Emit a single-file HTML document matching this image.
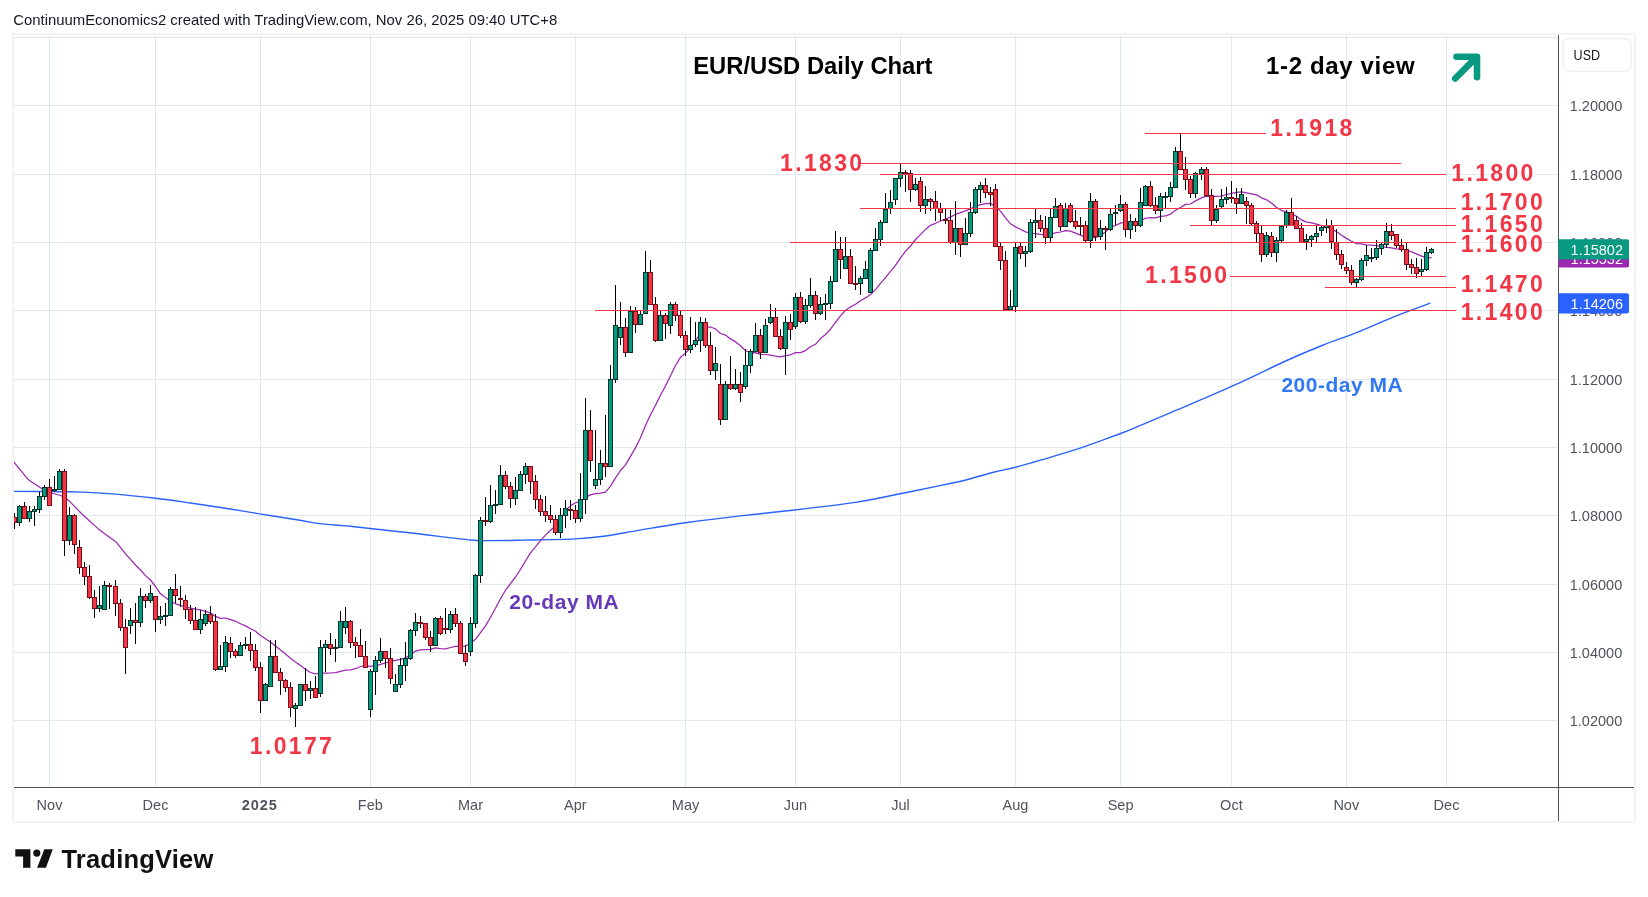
<!DOCTYPE html>
<html><head><meta charset="utf-8"><title>EUR/USD Daily Chart</title>
<style>
html,body{margin:0;padding:0;background:#fff;width:1648px;height:897px;overflow:hidden}
svg{position:absolute;left:0;top:0;display:block;will-change:transform}
text{font-family:"Liberation Sans",sans-serif}
</style></head><body>
<svg width="1648" height="897" viewBox="0 0 1648 897">

<text x="13.3" y="25.1" font-size="15" fill="#131722" textLength="544" lengthAdjust="spacingAndGlyphs">ContinuumEconomics2 created with TradingView.com, Nov 26, 2025 09:40 UTC+8</text>
<rect x="13" y="34" width="1622" height="788" fill="#fff" stroke="#f2f2f2" stroke-width="2"/>
<path d="M14 37.5H1558 M14 105.5H1558 M14 174.5H1558 M14 242.5H1558 M14 310.5H1558 M14 379.5H1558 M14 447.5H1558 M14 515.5H1558 M14 584.5H1558 M14 652.5H1558 M14 720.5H1558 M49.5 35V787 M155.5 35V787 M260.5 35V787 M370.5 35V787 M470.5 35V787 M575.5 35V787 M685.5 35V787 M795.5 35V787 M900.5 35V787 M1015.5 35V787 M1120.5 35V787 M1231.5 35V787 M1346.5 35V787 M1446.5 35V787" stroke="#e1e9f0" stroke-width="1" fill="none"/>
<svg x="14" y="35" width="1544" height="752" viewBox="14 35 1544 752" overflow="hidden">
<path d="M13.6 491.4 C22.1 491.4 53.1 491.6 64.6 491.7 C76.1 491.8 74.3 491.7 82.8 492.1 C91.3 492.5 103.5 493.1 115.6 494.1 C127.7 495.1 142.9 496.8 155.6 498.3 C168.3 499.8 179.8 501.5 192.0 503.2 C204.2 504.9 217.0 506.9 228.5 508.7 C240.0 510.5 249.3 512.2 261.2 514.1 C273.1 516.0 290.2 518.7 300.0 520.3 C309.8 521.9 310.6 522.5 319.7 523.6 C328.8 524.7 339.7 525.2 354.6 526.7 C369.5 528.2 389.9 530.6 409.2 532.8 C428.5 535.0 457.6 538.7 470.4 540.0 C483.1 541.3 477.7 540.6 485.7 540.6 C493.7 540.6 503.5 540.5 518.4 540.2 C533.3 539.9 560.6 539.6 575.2 538.9 C589.8 538.2 595.0 537.5 605.8 536.0 C616.6 534.5 626.7 532.3 640.0 530.1 C653.3 527.9 668.8 525.2 685.5 522.8 C702.2 520.4 721.9 518.0 740.1 515.9 C758.3 513.8 775.0 512.3 794.7 510.0 C814.4 507.7 840.9 504.6 858.5 501.9 C876.1 499.2 886.7 496.4 900.3 493.7 C913.9 491.0 928.9 487.9 940.0 485.6 C951.1 483.3 957.9 481.9 966.8 479.7 C975.7 477.5 985.4 474.4 993.5 472.3 C1001.6 470.2 1006.7 469.5 1015.6 467.2 C1024.5 464.9 1037.3 461.1 1047.0 458.3 C1056.7 455.5 1067.1 452.3 1073.8 450.2 C1080.5 448.1 1079.4 448.4 1087.2 445.6 C1095.0 442.8 1111.8 436.8 1120.6 433.5 C1129.4 430.2 1130.7 429.5 1140.0 425.6 C1149.3 421.7 1164.3 415.4 1176.4 410.2 C1188.5 405.0 1200.7 400.0 1212.8 394.7 C1224.9 389.4 1237.1 383.9 1249.2 378.3 C1261.3 372.7 1273.5 366.5 1285.6 361.0 C1297.7 355.5 1309.8 350.4 1322.0 345.5 C1334.2 340.6 1346.3 336.8 1358.5 331.9 C1370.7 327.0 1382.9 321.2 1394.9 316.4 C1406.9 311.6 1424.5 305.3 1430.4 303.1" stroke="#2962ff" stroke-width="1.4" fill="none"/>
<path d="M13.0 461.0 L28.7 480.1 L42.1 488.8 L52.8 493.5 L60.8 495.5 L68.9 500.6 L82.2 514.2 L98.3 528.9 L109.5 537.3 L115.5 541.4 L120.5 547.4 L125.5 553.9 L130.5 559.4 L135.5 565.0 L140.5 570.0 L145.5 575.6 L150.5 580.0 L155.5 586.5 L160.5 593.8 L165.5 597.6 L170.5 601.2 L175.5 603.8 L180.5 605.4 L185.5 607.0 L190.5 608.2 L195.5 609.2 L200.5 609.9 L205.5 611.3 L210.5 613.1 L215.5 616.4 L220.5 618.3 L225.5 618.0 L230.5 619.6 L235.5 621.2 L240.5 623.7 L245.5 625.9 L250.5 628.8 L255.5 631.2 L260.5 635.4 L265.5 638.8 L270.5 642.2 L275.5 646.0 L280.5 650.1 L285.5 654.0 L290.5 658.3 L295.5 662.1 L300.5 665.4 L305.5 669.2 L310.5 672.5 L315.5 673.9 L320.5 673.0 L325.5 673.1 L330.5 673.0 L335.5 672.6 L340.5 671.4 L345.5 670.2 L350.5 669.8 L355.5 668.7 L360.5 666.5 L365.5 665.6 L370.5 666.4 L375.5 665.8 L380.5 664.3 L385.5 662.9 L390.5 661.4 L395.5 660.4 L400.5 659.4 L405.5 657.8 L410.5 654.9 L415.5 651.1 L420.5 649.9 L425.5 649.6 L430.5 649.4 L435.5 647.9 L440.5 648.6 L445.5 648.9 L450.5 647.5 L455.5 646.4 L460.5 646.3 L465.5 646.0 L470.5 643.6 L475.5 639.3 L480.5 632.7 L485.5 625.9 L490.5 617.3 L495.5 608.3 L500.5 598.8 L505.5 590.2 L510.5 583.6 L515.5 577.0 L520.5 569.5 L525.5 561.0 L530.5 552.8 L535.5 546.8 L540.5 540.7 L545.5 535.1 L550.5 530.3 L555.5 525.8 L560.5 518.9 L565.5 511.2 L570.5 505.6 L575.5 502.7 L580.5 501.7 L585.5 497.2 L590.5 494.9 L595.5 493.7 L600.5 493.1 L605.5 492.1 L610.5 486.1 L615.5 477.9 L620.5 470.5 L625.5 464.9 L630.5 456.4 L635.5 447.6 L640.5 437.7 L645.5 425.6 L650.5 414.8 L655.5 405.2 L660.5 395.2 L665.5 386.0 L670.5 375.7 L675.5 365.5 L680.5 357.3 L685.5 353.2 L690.5 347.5 L695.5 340.5 L700.5 333.4 L705.5 327.4 L710.5 327.0 L715.5 328.9 L720.5 333.5 L725.5 335.1 L730.5 338.9 L735.5 341.9 L740.5 345.8 L745.5 350.5 L750.5 352.9 L755.5 352.6 L760.5 354.4 L765.5 354.5 L770.5 355.2 L775.5 356.2 L780.5 356.9 L785.5 355.6 L790.5 354.8 L795.5 352.6 L800.5 352.6 L805.5 350.6 L810.5 346.8 L815.5 344.3 L820.5 338.6 L825.5 334.5 L830.5 329.2 L835.5 322.4 L840.5 315.8 L845.5 310.3 L850.5 306.9 L855.5 304.3 L860.5 300.7 L865.5 297.9 L870.5 294.5 L875.5 289.6 L880.5 283.3 L885.5 277.6 L890.5 271.3 L895.5 265.3 L900.5 257.9 L905.5 251.3 L910.5 246.0 L915.5 239.5 L920.5 234.6 L925.5 229.4 L930.5 225.3 L935.5 223.3 L940.5 221.0 L945.5 219.2 L950.5 217.1 L955.5 214.3 L960.5 212.6 L965.5 210.8 L970.5 208.9 L975.5 206.4 L980.5 204.6 L985.5 203.7 L990.5 203.3 L995.5 206.7 L1000.5 211.1 L1005.5 217.9 L1010.5 223.8 L1015.5 226.9 L1020.5 229.3 L1025.5 231.9 L1030.5 233.0 L1035.5 233.6 L1040.5 234.4 L1045.5 235.2 L1050.5 234.0 L1055.5 232.9 L1060.5 232.0 L1065.5 230.7 L1070.5 231.2 L1075.5 233.1 L1080.5 235.1 L1085.5 237.5 L1090.5 237.9 L1095.5 237.4 L1100.5 235.8 L1105.5 231.8 L1110.5 227.2 L1115.5 225.5 L1120.5 223.1 L1125.5 222.0 L1130.5 221.9 L1135.5 222.2 L1140.5 220.9 L1145.5 218.3 L1150.5 217.7 L1155.5 217.9 L1160.5 216.4 L1165.5 215.8 L1170.5 214.1 L1175.5 210.3 L1180.5 207.5 L1185.5 204.4 L1190.5 204.0 L1195.5 200.9 L1201.5 197.9 L1206.5 196.2 L1211.5 196.5 L1216.5 196.3 L1221.5 196.1 L1226.5 194.5 L1231.5 193.4 L1236.5 192.3 L1241.5 191.9 L1246.5 192.8 L1251.5 193.8 L1256.5 194.9 L1261.5 197.8 L1266.5 199.8 L1271.5 203.0 L1276.5 207.5 L1281.5 210.3 L1286.5 212.0 L1291.5 213.6 L1296.5 216.3 L1301.5 219.9 L1306.5 222.1 L1311.5 222.9 L1316.5 224.1 L1321.5 225.5 L1326.5 226.9 L1331.5 229.1 L1336.5 231.7 L1341.5 235.2 L1346.5 238.4 L1351.5 241.3 L1356.5 243.6 L1361.5 243.9 L1366.5 244.9 L1371.5 245.2 L1376.5 245.6 L1381.5 246.5 L1386.5 247.4 L1391.5 247.9 L1396.5 248.8 L1401.5 249.1 L1406.5 250.4 L1411.5 251.9 L1416.5 253.9 L1421.5 256.1 L1426.5 257.4 L1431.5 257.8" stroke="#9c27b0" stroke-width="1.25" fill="none" stroke-linejoin="round"/>
<path d="M14.5 513V529 M19.5 505V526 M24.5 502V518 M29.5 506V522 M34.5 506V526 M39.5 492V513 M44.5 485V500 M49.5 479V505 M54.5 476V492 M59.5 469V490 M64.5 469V556 M69.5 507V545 M74.5 514V554 M79.5 540V574 M84.5 562V585 M89.5 565V599 M94.5 590V618 M99.5 586V612 M104.5 581V609 M109.5 583V609 M115.5 580V616 M120.5 599V631 M125.5 619V674 M130.5 608V634 M135.5 603V644 M140.5 588V627 M145.5 594V608 M150.5 585V603 M155.5 596V632 M160.5 606V624 M165.5 603V626 M170.5 587V616 M175.5 574V603 M180.5 586V607 M185.5 595V619 M190.5 605V624 M195.5 607V630 M200.5 610V634 M205.5 610V626 M210.5 606V624 M215.5 614V671 M220.5 645V670 M225.5 636V672 M230.5 637V658 M235.5 649V658 M240.5 642V655 M245.5 637V649 M250.5 632V661 M255.5 644V671 M260.5 662V713 M265.5 683V701 M270.5 640V687 M275.5 640V673 M280.5 668V695 M285.5 679V692 M290.5 682V717 M295.5 703V727 M300.5 684V706 M305.5 668V701 M310.5 681V699 M315.5 676V698 M320.5 640V697 M325.5 640V672 M330.5 633V655 M335.5 639V662 M340.5 611V647 M345.5 607V634 M350.5 620V648 M355.5 637V658 M360.5 629V656 M365.5 641V668 M370.5 669V717 M375.5 656V695 M380.5 638V663 M385.5 651V668 M390.5 648V684 M395.5 674V691 M400.5 658V688 M405.5 642V681 M410.5 629V660 M415.5 613V636 M420.5 616V628 M425.5 623V640 M430.5 631V652 M435.5 617V645 M440.5 616V635 M445.5 608V634 M450.5 611V633 M455.5 608V627 M460.5 621V653 M465.5 645V666 M470.5 617V656 M475.5 574V628 M480.5 517V583 M485.5 497V526 M490.5 485V523 M495.5 490V514 M500.5 465V505 M505.5 471V489 M510.5 482V508 M515.5 477V505 M520.5 471V491 M525.5 463V484 M530.5 466V494 M535.5 475V509 M540.5 495V516 M545.5 496V522 M550.5 505V523 M555.5 515V535 M560.5 508V538 M565.5 500V528 M570.5 500V520 M575.5 505V523 M580.5 473V522 M585.5 398V514 M590.5 410V472 M595.5 430V489 M600.5 450V485 M605.5 415V477 M610.5 365V466 M615.5 285V383 M620.5 302V345 M625.5 318V357 M630.5 306V352 M635.5 307V333 M640.5 311V324 M645.5 251V313 M650.5 260V304 M655.5 297V342 M660.5 311V341 M665.5 313V339 M670.5 302V334 M675.5 302V321 M680.5 311V338 M685.5 331V356 M690.5 317V353 M695.5 322V347 M700.5 317V352 M705.5 318V348 M710.5 332V375 M715.5 347V380 M720.5 364V425 M725.5 381V420 M730.5 356V390 M735.5 369V390 M740.5 372V402 M745.5 349V389 M750.5 349V373 M755.5 323V352 M760.5 329V359 M765.5 319V352 M770.5 304V324 M775.5 308V336 M780.5 329V350 M785.5 316V375 M790.5 314V340 M795.5 293V329 M800.5 292V323 M805.5 299V324 M810.5 278V308 M815.5 291V320 M820.5 297V315 M825.5 294V320 M830.5 276V309 M835.5 231V282 M840.5 237V279 M845.5 237V268 M850.5 249V284 M855.5 266V290 M860.5 276V295 M865.5 261V279 M870.5 248V292 M875.5 228V251 M880.5 220V246 M885.5 193V223 M890.5 190V214 M895.5 178V205 M900.5 164V187 M905.5 170V192 M910.5 170V202 M915.5 178V191 M920.5 177V212 M925.5 186V214 M930.5 198V211 M935.5 191V221 M940.5 203V221 M945.5 209V224 M950.5 210V244 M955.5 201V255 M960.5 228V257 M965.5 218V244 M970.5 202V237 M975.5 187V214 M980.5 182V203 M985.5 178V198 M990.5 187V206 M995.5 184V246 M1000.5 243V270 M1005.5 251V310 M1010.5 290V310 M1015.5 243V312 M1020.5 243V259 M1025.5 246V267 M1030.5 219V253 M1035.5 209V238 M1040.5 215V232 M1045.5 216V244 M1050.5 208V242 M1055.5 198V218 M1060.5 203V231 M1065.5 203V226 M1070.5 203V223 M1075.5 210V229 M1080.5 217V235 M1085.5 221V242 M1090.5 193V248 M1095.5 199V241 M1100.5 220V240 M1105.5 226V250 M1110.5 209V231 M1115.5 205V225 M1120.5 195V212 M1125.5 202V237 M1130.5 214V239 M1135.5 218V232 M1140.5 188V227 M1145.5 185V206 M1150.5 181V207 M1155.5 197V214 M1160.5 193V222 M1165.5 192V208 M1170.5 182V202 M1175.5 147V187 M1180.5 134V170 M1185.5 157V190 M1190.5 176V198 M1195.5 172V198 M1201.5 167V180 M1206.5 167V197 M1211.5 189V225 M1216.5 205V223 M1221.5 189V208 M1226.5 187V204 M1231.5 181V203 M1236.5 188V214 M1241.5 188V203 M1246.5 197V224 M1251.5 203V225 M1256.5 221V242 M1261.5 226V262 M1266.5 232V257 M1271.5 232V257 M1276.5 237V262 M1281.5 226V242 M1286.5 210V228 M1291.5 198V225 M1296.5 216V228 M1301.5 223V242 M1306.5 234V250 M1311.5 235V247 M1316.5 226V242 M1321.5 225V236 M1326.5 219V233 M1331.5 220V249 M1336.5 229V260 M1341.5 250V269 M1346.5 262V274 M1351.5 265V285 M1356.5 278V287 M1361.5 258V281 M1366.5 245V266 M1371.5 248V262 M1376.5 240V260 M1381.5 243V255 M1386.5 223V248 M1391.5 224V240 M1396.5 234V248 M1401.5 239V252 M1406.5 243V270 M1411.5 259V274 M1416.5 258V278 M1421.5 259V276 M1426.5 247V271 M1431.5 248V254" stroke="#000" stroke-width="1" fill="none"/>
<g fill="#089981" stroke="#06342b" stroke-width="1"><rect x="17.5" y="506.5" width="4" height="16"/><rect x="27.5" y="511.5" width="4" height="7"/><rect x="32.5" y="509.5" width="4" height="2"/><rect x="37.5" y="496.5" width="4" height="13"/><rect x="42.5" y="487.5" width="4" height="9"/><rect x="52.5" y="489.5" width="4" height="1"/><rect x="57.5" y="471.5" width="4" height="18"/><rect x="67.5" y="515.5" width="4" height="25"/><rect x="97.5" y="605.5" width="4" height="3"/><rect x="102.5" y="585.5" width="4" height="24"/><rect x="128.5" y="620.5" width="4" height="5"/><rect x="138.5" y="596.5" width="4" height="26"/><rect x="148.5" y="593.5" width="4" height="7"/><rect x="158.5" y="616.5" width="4" height="3"/><rect x="163.5" y="615.5" width="4" height="1"/><rect x="168.5" y="589.5" width="4" height="26"/><rect x="198.5" y="619.5" width="4" height="10"/><rect x="203.5" y="614.5" width="4" height="9"/><rect x="218.5" y="666.5" width="4" height="3"/><rect x="223.5" y="642.5" width="4" height="24"/><rect x="238.5" y="645.5" width="4" height="10"/><rect x="243.5" y="644.5" width="4" height="1"/><rect x="263.5" y="684.5" width="4" height="16"/><rect x="268.5" y="656.5" width="4" height="30"/><rect x="293.5" y="705.5" width="4" height="3"/><rect x="298.5" y="684.5" width="4" height="21"/><rect x="308.5" y="688.5" width="4" height="2"/><rect x="318.5" y="647.5" width="4" height="46"/><rect x="323.5" y="644.5" width="4" height="3"/><rect x="333.5" y="647.5" width="4" height="1"/><rect x="338.5" y="621.5" width="4" height="26"/><rect x="343.5" y="621.5" width="4" height="6"/><rect x="368.5" y="671.5" width="4" height="38"/><rect x="373.5" y="660.5" width="4" height="11"/><rect x="378.5" y="651.5" width="4" height="9"/><rect x="393.5" y="684.5" width="4" height="7"/><rect x="398.5" y="665.5" width="4" height="19"/><rect x="403.5" y="658.5" width="4" height="7"/><rect x="408.5" y="630.5" width="4" height="28"/><rect x="413.5" y="622.5" width="4" height="8"/><rect x="433.5" y="618.5" width="4" height="27"/><rect x="448.5" y="614.5" width="4" height="15"/><rect x="468.5" y="623.5" width="4" height="28"/><rect x="473.5" y="575.5" width="4" height="48"/><rect x="478.5" y="520.5" width="4" height="55"/><rect x="488.5" y="505.5" width="4" height="16"/><rect x="493.5" y="504.5" width="4" height="1"/><rect x="498.5" y="475.5" width="4" height="29"/><rect x="513.5" y="490.5" width="4" height="8"/><rect x="518.5" y="474.5" width="4" height="16"/><rect x="523.5" y="466.5" width="4" height="8"/><rect x="558.5" y="515.5" width="4" height="17"/><rect x="563.5" y="508.5" width="4" height="7"/><rect x="578.5" y="499.5" width="4" height="19"/><rect x="583.5" y="430.5" width="4" height="69"/><rect x="593.5" y="479.5" width="4" height="6"/><rect x="598.5" y="463.5" width="4" height="16"/><rect x="608.5" y="379.5" width="4" height="87"/><rect x="613.5" y="325.5" width="4" height="54"/><rect x="618.5" y="327.5" width="4" height="10"/><rect x="628.5" y="311.5" width="4" height="41"/><rect x="638.5" y="314.5" width="4" height="10"/><rect x="643.5" y="272.5" width="4" height="41"/><rect x="658.5" y="315.5" width="4" height="25"/><rect x="668.5" y="304.5" width="4" height="21"/><rect x="688.5" y="345.5" width="4" height="4"/><rect x="693.5" y="340.5" width="4" height="4"/><rect x="698.5" y="322.5" width="4" height="18"/><rect x="713.5" y="363.5" width="4" height="7"/><rect x="723.5" y="384.5" width="4" height="35"/><rect x="733.5" y="384.5" width="4" height="4"/><rect x="743.5" y="365.5" width="4" height="21"/><rect x="748.5" y="351.5" width="4" height="14"/><rect x="753.5" y="335.5" width="4" height="16"/><rect x="763.5" y="325.5" width="4" height="27"/><rect x="768.5" y="317.5" width="4" height="5"/><rect x="783.5" y="322.5" width="4" height="26"/><rect x="793.5" y="297.5" width="4" height="29"/><rect x="803.5" y="305.5" width="4" height="16"/><rect x="808.5" y="295.5" width="4" height="10"/><rect x="818.5" y="304.5" width="4" height="9"/><rect x="823.5" y="303.5" width="4" height="1"/><rect x="828.5" y="281.5" width="4" height="22"/><rect x="833.5" y="249.5" width="4" height="32"/><rect x="843.5" y="256.5" width="4" height="12"/><rect x="858.5" y="278.5" width="4" height="5"/><rect x="863.5" y="269.5" width="4" height="9"/><rect x="868.5" y="250.5" width="4" height="42"/><rect x="873.5" y="239.5" width="4" height="11"/><rect x="878.5" y="222.5" width="4" height="17"/><rect x="883.5" y="209.5" width="4" height="13"/><rect x="888.5" y="202.5" width="4" height="6"/><rect x="893.5" y="178.5" width="4" height="21"/><rect x="898.5" y="172.5" width="4" height="6"/><rect x="913.5" y="184.5" width="4" height="5"/><rect x="923.5" y="199.5" width="4" height="6"/><rect x="953.5" y="228.5" width="4" height="14"/><rect x="963.5" y="233.5" width="4" height="11"/><rect x="968.5" y="212.5" width="4" height="21"/><rect x="973.5" y="189.5" width="4" height="23"/><rect x="978.5" y="185.5" width="4" height="4"/><rect x="1008.5" y="306.5" width="4" height="3"/><rect x="1013.5" y="247.5" width="4" height="59"/><rect x="1023.5" y="251.5" width="4" height="2"/><rect x="1028.5" y="222.5" width="4" height="29"/><rect x="1033.5" y="220.5" width="4" height="2"/><rect x="1048.5" y="217.5" width="4" height="20"/><rect x="1053.5" y="206.5" width="4" height="11"/><rect x="1063.5" y="208.5" width="4" height="18"/><rect x="1088.5" y="201.5" width="4" height="39"/><rect x="1098.5" y="228.5" width="4" height="8"/><rect x="1108.5" y="214.5" width="4" height="15"/><rect x="1113.5" y="212.5" width="4" height="1"/><rect x="1118.5" y="204.5" width="4" height="6"/><rect x="1128.5" y="221.5" width="4" height="8"/><rect x="1138.5" y="202.5" width="4" height="23"/><rect x="1143.5" y="186.5" width="4" height="19"/><rect x="1158.5" y="196.5" width="4" height="14"/><rect x="1163.5" y="196.5" width="4" height="1"/><rect x="1168.5" y="187.5" width="4" height="9"/><rect x="1173.5" y="151.5" width="4" height="36"/><rect x="1193.5" y="173.5" width="4" height="20"/><rect x="1199.5" y="169.5" width="4" height="4"/><rect x="1214.5" y="209.5" width="4" height="11"/><rect x="1219.5" y="199.5" width="4" height="7"/><rect x="1224.5" y="197.5" width="4" height="2"/><rect x="1239.5" y="194.5" width="4" height="9"/><rect x="1264.5" y="235.5" width="4" height="19"/><rect x="1274.5" y="240.5" width="4" height="12"/><rect x="1279.5" y="226.5" width="4" height="14"/><rect x="1284.5" y="212.5" width="4" height="13"/><rect x="1304.5" y="239.5" width="4" height="2"/><rect x="1309.5" y="236.5" width="4" height="3"/><rect x="1314.5" y="233.5" width="4" height="3"/><rect x="1319.5" y="227.5" width="4" height="3"/><rect x="1324.5" y="225.5" width="4" height="2"/><rect x="1354.5" y="279.5" width="4" height="3"/><rect x="1359.5" y="260.5" width="4" height="19"/><rect x="1364.5" y="255.5" width="4" height="5"/><rect x="1369.5" y="257.5" width="4" height="1"/><rect x="1374.5" y="248.5" width="4" height="9"/><rect x="1379.5" y="244.5" width="4" height="4"/><rect x="1384.5" y="231.5" width="4" height="13"/><rect x="1419.5" y="269.5" width="4" height="2"/><rect x="1424.5" y="252.5" width="4" height="17"/><rect x="1429.5" y="249.5" width="4" height="3"/></g>
<g fill="#f23645" stroke="#7a0e18" stroke-width="1"><rect x="12.5" y="517.5" width="4" height="5"/><rect x="22.5" y="506.5" width="4" height="12"/><rect x="47.5" y="487.5" width="4" height="18"/><rect x="62.5" y="471.5" width="4" height="69"/><rect x="72.5" y="515.5" width="4" height="29"/><rect x="77.5" y="547.5" width="4" height="20"/><rect x="82.5" y="567.5" width="4" height="9"/><rect x="87.5" y="576.5" width="4" height="21"/><rect x="92.5" y="597.5" width="4" height="11"/><rect x="107.5" y="585.5" width="4" height="1"/><rect x="113.5" y="586.5" width="4" height="17"/><rect x="118.5" y="603.5" width="4" height="24"/><rect x="123.5" y="627.5" width="4" height="20"/><rect x="133.5" y="620.5" width="4" height="2"/><rect x="143.5" y="596.5" width="4" height="4"/><rect x="153.5" y="596.5" width="4" height="23"/><rect x="173.5" y="589.5" width="4" height="6"/><rect x="178.5" y="598.5" width="4" height="1"/><rect x="183.5" y="600.5" width="4" height="9"/><rect x="188.5" y="609.5" width="4" height="11"/><rect x="193.5" y="620.5" width="4" height="9"/><rect x="208.5" y="614.5" width="4" height="7"/><rect x="213.5" y="621.5" width="4" height="48"/><rect x="228.5" y="643.5" width="4" height="8"/><rect x="233.5" y="651.5" width="4" height="4"/><rect x="248.5" y="644.5" width="4" height="6"/><rect x="253.5" y="650.5" width="4" height="17"/><rect x="258.5" y="667.5" width="4" height="33"/><rect x="273.5" y="656.5" width="4" height="16"/><rect x="278.5" y="672.5" width="4" height="8"/><rect x="283.5" y="680.5" width="4" height="7"/><rect x="288.5" y="687.5" width="4" height="20"/><rect x="303.5" y="684.5" width="4" height="6"/><rect x="313.5" y="688.5" width="4" height="9"/><rect x="328.5" y="644.5" width="4" height="4"/><rect x="348.5" y="621.5" width="4" height="21"/><rect x="353.5" y="642.5" width="4" height="3"/><rect x="358.5" y="645.5" width="4" height="11"/><rect x="363.5" y="656.5" width="4" height="11"/><rect x="383.5" y="651.5" width="4" height="7"/><rect x="388.5" y="658.5" width="4" height="20"/><rect x="418.5" y="622.5" width="4" height="1"/><rect x="423.5" y="623.5" width="4" height="14"/><rect x="428.5" y="637.5" width="4" height="8"/><rect x="438.5" y="618.5" width="4" height="15"/><rect x="443.5" y="628.5" width="4" height="1"/><rect x="453.5" y="614.5" width="4" height="9"/><rect x="458.5" y="623.5" width="4" height="30"/><rect x="463.5" y="653.5" width="4" height="8"/><rect x="483.5" y="520.5" width="4" height="1"/><rect x="503.5" y="475.5" width="4" height="11"/><rect x="508.5" y="486.5" width="4" height="12"/><rect x="528.5" y="466.5" width="4" height="15"/><rect x="533.5" y="481.5" width="4" height="18"/><rect x="538.5" y="499.5" width="4" height="12"/><rect x="543.5" y="511.5" width="4" height="4"/><rect x="548.5" y="515.5" width="4" height="4"/><rect x="553.5" y="519.5" width="4" height="13"/><rect x="568.5" y="509.5" width="4" height="1"/><rect x="573.5" y="510.5" width="4" height="8"/><rect x="588.5" y="430.5" width="4" height="30"/><rect x="603.5" y="463.5" width="4" height="3"/><rect x="623.5" y="327.5" width="4" height="25"/><rect x="633.5" y="311.5" width="4" height="13"/><rect x="648.5" y="272.5" width="4" height="32"/><rect x="653.5" y="304.5" width="4" height="36"/><rect x="663.5" y="315.5" width="4" height="8"/><rect x="673.5" y="304.5" width="4" height="11"/><rect x="678.5" y="315.5" width="4" height="20"/><rect x="683.5" y="335.5" width="4" height="14"/><rect x="703.5" y="322.5" width="4" height="23"/><rect x="708.5" y="345.5" width="4" height="25"/><rect x="718.5" y="384.5" width="4" height="35"/><rect x="728.5" y="384.5" width="4" height="4"/><rect x="738.5" y="384.5" width="4" height="8"/><rect x="758.5" y="335.5" width="4" height="17"/><rect x="773.5" y="317.5" width="4" height="19"/><rect x="778.5" y="336.5" width="4" height="12"/><rect x="788.5" y="322.5" width="4" height="7"/><rect x="798.5" y="297.5" width="4" height="24"/><rect x="813.5" y="295.5" width="4" height="18"/><rect x="838.5" y="249.5" width="4" height="10"/><rect x="848.5" y="256.5" width="4" height="27"/><rect x="853.5" y="283.5" width="4" height="1"/><rect x="903.5" y="172.5" width="4" height="1"/><rect x="908.5" y="173.5" width="4" height="16"/><rect x="918.5" y="181.5" width="4" height="24"/><rect x="928.5" y="199.5" width="4" height="2"/><rect x="933.5" y="201.5" width="4" height="7"/><rect x="938.5" y="208.5" width="4" height="4"/><rect x="943.5" y="219.5" width="4" height="1"/><rect x="948.5" y="220.5" width="4" height="22"/><rect x="958.5" y="228.5" width="4" height="16"/><rect x="983.5" y="185.5" width="4" height="7"/><rect x="988.5" y="192.5" width="4" height="2"/><rect x="993.5" y="189.5" width="4" height="57"/><rect x="998.5" y="246.5" width="4" height="14"/><rect x="1003.5" y="260.5" width="4" height="49"/><rect x="1018.5" y="246.5" width="4" height="7"/><rect x="1038.5" y="220.5" width="4" height="8"/><rect x="1043.5" y="228.5" width="4" height="9"/><rect x="1058.5" y="205.5" width="4" height="21"/><rect x="1068.5" y="205.5" width="4" height="16"/><rect x="1073.5" y="221.5" width="4" height="5"/><rect x="1078.5" y="225.5" width="4" height="1"/><rect x="1083.5" y="225.5" width="4" height="15"/><rect x="1093.5" y="201.5" width="4" height="35"/><rect x="1103.5" y="228.5" width="4" height="1"/><rect x="1123.5" y="204.5" width="4" height="25"/><rect x="1133.5" y="221.5" width="4" height="4"/><rect x="1148.5" y="186.5" width="4" height="19"/><rect x="1153.5" y="205.5" width="4" height="5"/><rect x="1178.5" y="151.5" width="4" height="18"/><rect x="1183.5" y="169.5" width="4" height="10"/><rect x="1188.5" y="179.5" width="4" height="14"/><rect x="1204.5" y="169.5" width="4" height="26"/><rect x="1209.5" y="195.5" width="4" height="25"/><rect x="1229.5" y="197.5" width="4" height="1"/><rect x="1234.5" y="198.5" width="4" height="5"/><rect x="1244.5" y="201.5" width="4" height="4"/><rect x="1249.5" y="205.5" width="4" height="18"/><rect x="1254.5" y="223.5" width="4" height="10"/><rect x="1259.5" y="233.5" width="4" height="21"/><rect x="1269.5" y="236.5" width="4" height="16"/><rect x="1289.5" y="212.5" width="4" height="13"/><rect x="1294.5" y="220.5" width="4" height="8"/><rect x="1299.5" y="228.5" width="4" height="14"/><rect x="1329.5" y="225.5" width="4" height="16"/><rect x="1334.5" y="242.5" width="4" height="12"/><rect x="1339.5" y="254.5" width="4" height="10"/><rect x="1344.5" y="267.5" width="4" height="3"/><rect x="1349.5" y="270.5" width="4" height="12"/><rect x="1389.5" y="231.5" width="4" height="4"/><rect x="1394.5" y="234.5" width="4" height="11"/><rect x="1399.5" y="245.5" width="4" height="4"/><rect x="1404.5" y="249.5" width="4" height="15"/><rect x="1409.5" y="264.5" width="4" height="3"/><rect x="1414.5" y="267.5" width="4" height="6"/></g>
</svg>
<path d="M1145 133.5H1266 M860 163.5H1401 M880 174.5H1446 M860 208.5H1456 M1190 225.5H1456 M790 242.5H1456 M1230 276.5H1446 M1325 287.5H1456 M595 310.5H1456" stroke="#f23645" stroke-width="1" fill="none"/>
<text x="1270.3" y="136" font-size="23" font-weight="700" fill="#f23645" letter-spacing="2.35">1.1918</text>
<text x="780" y="171.2" font-size="23" font-weight="700" fill="#f23645" letter-spacing="2.35">1.1830</text>
<text x="1451.3" y="181.4" font-size="23" font-weight="700" fill="#f23645" letter-spacing="2.35">1.1800</text>
<text x="1460.7" y="209.6" font-size="23" font-weight="700" fill="#f23645" letter-spacing="2.35">1.1700</text>
<text x="1460.7" y="231.8" font-size="23" font-weight="700" fill="#f23645" letter-spacing="2.35">1.1650</text>
<text x="1460.7" y="252.3" font-size="23" font-weight="700" fill="#f23645" letter-spacing="2.35">1.1600</text>
<text x="1145" y="283" font-size="23" font-weight="700" fill="#f23645" letter-spacing="2.35">1.1500</text>
<text x="1460.7" y="291.8" font-size="23" font-weight="700" fill="#f23645" letter-spacing="2.35">1.1470</text>
<text x="1460.7" y="319.9" font-size="23" font-weight="700" fill="#f23645" letter-spacing="2.35">1.1400</text>
<text x="249.8" y="754" font-size="23" font-weight="700" fill="#f23645" letter-spacing="2.35">1.0177</text>
<text x="693.2" y="73.9" font-size="23.8" font-weight="700" fill="#000">EUR/USD Daily Chart</text>
<text x="1266" y="74.1" font-size="24" font-weight="700" fill="#000" letter-spacing="0.65">1-2 day view</text>
<path d="M1455.2 78.5 L1476 57.7 M1456.5 56.8 H1477 V77.3" stroke="#089981" stroke-width="6.6" fill="none" stroke-linecap="round" stroke-linejoin="round"/>
<text x="509.3" y="608.9" font-size="21" font-weight="700" fill="#673ab7" letter-spacing="0.55">20-day MA</text>
<text x="1281.4" y="391.7" font-size="21" font-weight="700" fill="#3179f5" letter-spacing="0.5">200-day MA</text>
<path d="M1558.5 35V821 M14 787.5H1634" stroke="#50535e" stroke-width="1" fill="none"/>
<text x="1596" y="110.9" font-size="14.5" fill="#50535e" text-anchor="middle">1.20000</text>
<text x="1596" y="179.9" font-size="14.5" fill="#50535e" text-anchor="middle">1.18000</text>
<text x="1596" y="247.9" font-size="14.5" fill="#50535e" text-anchor="middle">1.16000</text>
<text x="1596" y="315.9" font-size="14.5" fill="#50535e" text-anchor="middle">1.14000</text>
<text x="1596" y="384.9" font-size="14.5" fill="#50535e" text-anchor="middle">1.12000</text>
<text x="1596" y="452.9" font-size="14.5" fill="#50535e" text-anchor="middle">1.10000</text>
<text x="1596" y="520.9" font-size="14.5" fill="#50535e" text-anchor="middle">1.08000</text>
<text x="1596" y="589.9" font-size="14.5" fill="#50535e" text-anchor="middle">1.06000</text>
<text x="1596" y="657.9" font-size="14.5" fill="#50535e" text-anchor="middle">1.04000</text>
<text x="1596" y="725.9" font-size="14.5" fill="#50535e" text-anchor="middle">1.02000</text>
<rect x="1563" y="38.7" width="68" height="32.5" rx="6" fill="#fff" stroke="#e6e6e6" stroke-width="1"/>
<text x="1573.6" y="59.8" font-size="15" fill="#131722" textLength="26.5" lengthAdjust="spacingAndGlyphs">USD</text>
<path d="M1558.5 247 H1627 a2 2 0 0 1 2 2 V265.5 a2 2 0 0 1 -2 2 H1558.5Z" fill="#9c27b0"/>
<text x="1623" y="264" font-size="14.5" fill="#fff" text-anchor="end">1.15532</text>
<path d="M1558.5 239.3 H1627 a2 2 0 0 1 2 2 V257.6 a2 2 0 0 1 -2 2 H1558.5Z" fill="#089981"/>
<text x="1623" y="254.6" font-size="14.5" fill="#fff" text-anchor="end">1.15802</text>
<path d="M1558.5 293.2 H1627 a2 2 0 0 1 2 2 V311.6 a2 2 0 0 1 -2 2 H1558.5Z" fill="#2962ff"/>
<text x="1623" y="308.5" font-size="14.5" fill="#fff" text-anchor="end">1.14206</text>
<text x="49.5" y="809.8" font-size="14.5" font-weight="400" fill="#50535e" text-anchor="middle">Nov</text>
<text x="155.5" y="809.8" font-size="14.5" font-weight="400" fill="#50535e" text-anchor="middle">Dec</text>
<text x="259.79999999999995" y="809.8" font-size="14.5" font-weight="700" fill="#50535e" text-anchor="middle" letter-spacing="1">2025</text>
<text x="370.3" y="809.8" font-size="14.5" font-weight="400" fill="#50535e" text-anchor="middle">Feb</text>
<text x="470.5" y="809.8" font-size="14.5" font-weight="400" fill="#50535e" text-anchor="middle">Mar</text>
<text x="575.4" y="809.8" font-size="14.5" font-weight="400" fill="#50535e" text-anchor="middle">Apr</text>
<text x="685.5" y="809.8" font-size="14.5" font-weight="400" fill="#50535e" text-anchor="middle">May</text>
<text x="795.5" y="809.8" font-size="14.5" font-weight="400" fill="#50535e" text-anchor="middle">Jun</text>
<text x="900.5" y="809.8" font-size="14.5" font-weight="400" fill="#50535e" text-anchor="middle">Jul</text>
<text x="1015.5" y="809.8" font-size="14.5" font-weight="400" fill="#50535e" text-anchor="middle">Aug</text>
<text x="1120.6" y="809.8" font-size="14.5" font-weight="400" fill="#50535e" text-anchor="middle">Sep</text>
<text x="1231.4" y="809.8" font-size="14.5" font-weight="400" fill="#50535e" text-anchor="middle">Oct</text>
<text x="1346.3" y="809.8" font-size="14.5" font-weight="400" fill="#50535e" text-anchor="middle">Nov</text>
<text x="1446.5" y="809.8" font-size="14.5" font-weight="400" fill="#50535e" text-anchor="middle">Dec</text>
<path d="M15.3 849.3H30.4V867.8H23.1V856.6H15.3Z" fill="#111"/>
<circle cx="36.8" cy="853.1" r="3.6" fill="#111"/>
<path d="M44.4 849.3H52.8L45.9 867.8H37.1Z" fill="#111"/>
<text x="61.5" y="868" font-size="25.5" font-weight="700" fill="#111" letter-spacing="0.2">TradingView</text>
</svg></body></html>
